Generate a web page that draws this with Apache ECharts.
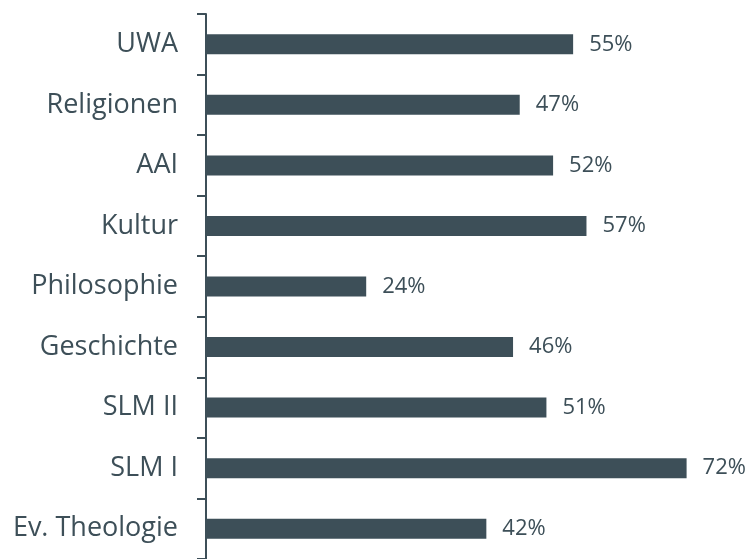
<!DOCTYPE html>
<html><head><meta charset="utf-8">
<script src="https://cdn.jsdelivr.net/npm/echarts@6/dist/echarts.min.js"></script>
<style>html,body{margin:0;padding:0;background:#fff}#c{width:750px;height:559px}</style>
</head><body><div id="c"></div>
<script>
const categories = ["UWA","Religionen","AAI","Kultur","Philosophie","Geschichte","SLM II","SLM I","Ev. Theologie"];
const values = [55,47,52,57,24,46,51,72,42];
const C = '#3d4f58';
const chart = echarts.init(document.getElementById('c'));
chart.setOption({
  animation:false,
  grid:{left:206,top:14,width:534,height:545},
  xAxis:{type:'value',min:0,max:80,show:false},
  yAxis:{type:'category',inverse:true,data:categories,
    axisLine:{lineStyle:{color:C,width:2}},
    axisTick:{show:true,length:9,lineStyle:{color:C,width:2}},
    axisLabel:{color:C,fontFamily:'Open Sans',fontSize:27,margin:28}},
  series:[{type:'bar',data:values,barWidth:20,itemStyle:{color:C},
    label:{show:true,position:'right',distance:16,formatter:'{c}%',color:C,fontFamily:'Open Sans',fontSize:22}}]
});
</script></body></html>
